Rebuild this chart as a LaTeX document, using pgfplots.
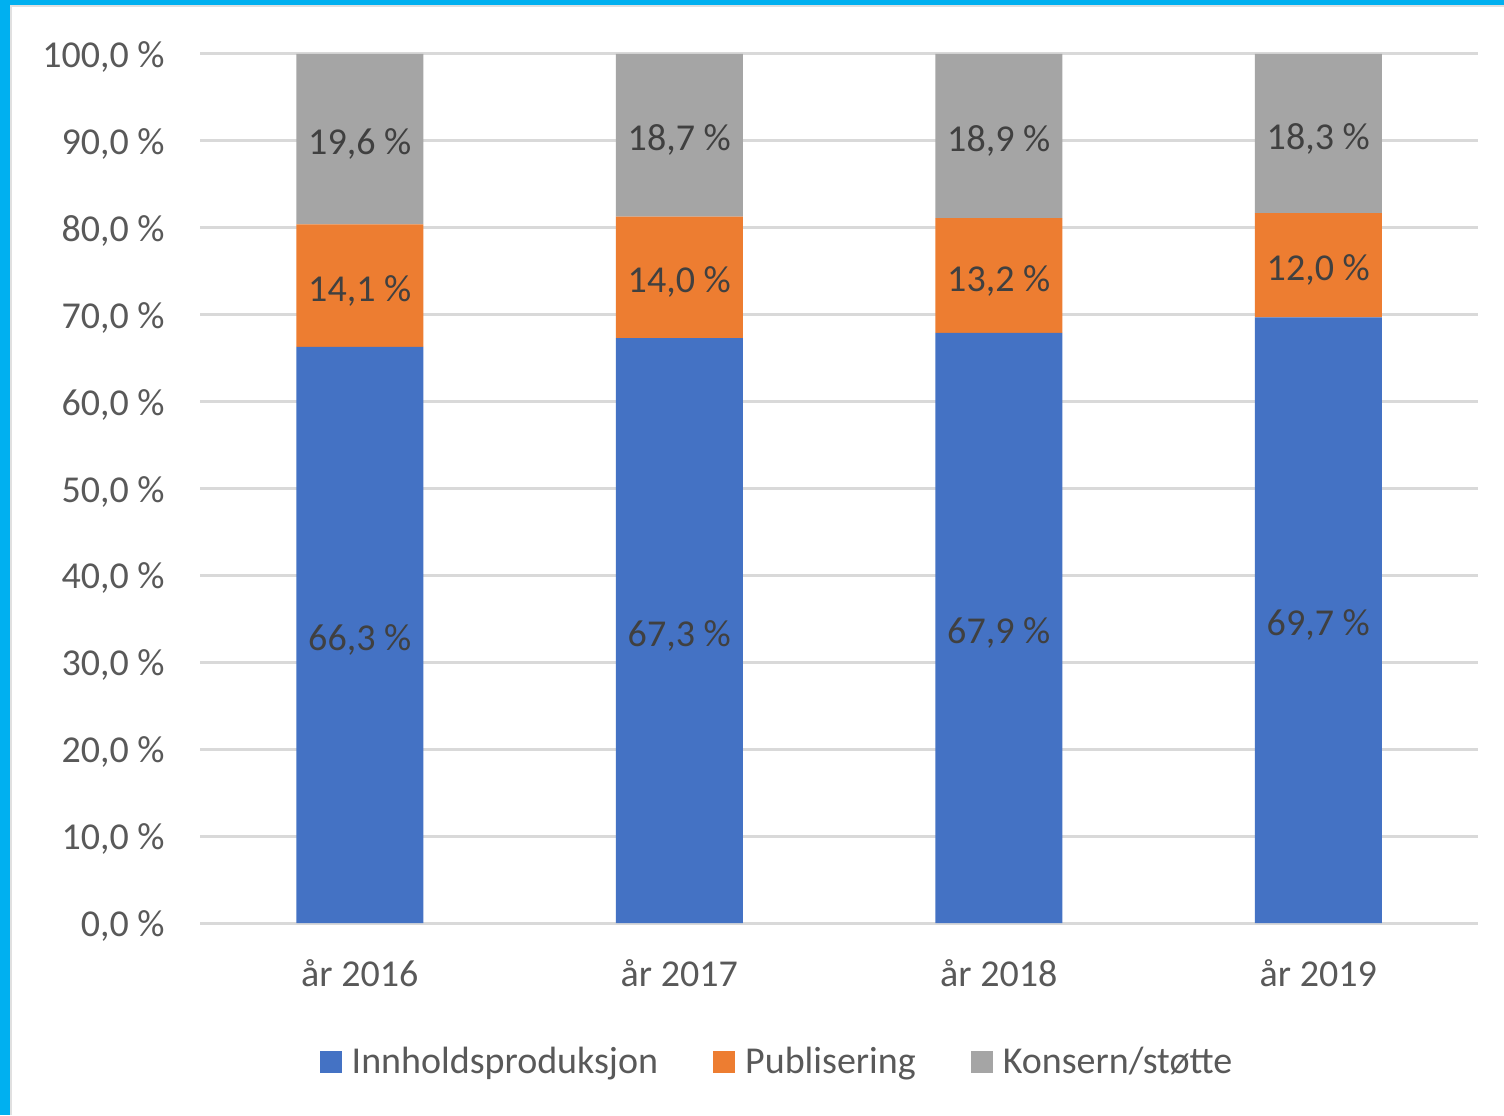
\documentclass[border=0pt]{standalone}
\usepackage{fontspec}
\setmainfont{Carlito}
\usepackage{pgfplots}
\pgfplotsset{compat=1.18}
\definecolor{cblue}{HTML}{4472C4}
\definecolor{corange}{HTML}{ED7D31}
\definecolor{cgray}{HTML}{A5A5A5}
\definecolor{cgrid}{HTML}{D9D9D9}
\definecolor{ctick}{HTML}{595959}
\definecolor{clab}{HTML}{404040}
\definecolor{cframe}{HTML}{00B0F0}
\begin{document}
\begin{tikzpicture}
\useasboundingbox (0,0) rectangle (752pt,557.5pt);
\fill[white] (0,0) rectangle (752pt,557.5pt);
\fill[cframe] (0,0) rectangle (5pt,557.5pt);
\fill[cframe] (0,555pt) rectangle (752pt,557.5pt);
\draw[black!12, line width=1pt] (5.5pt,0) -- (5.5pt,554.5pt) -- (752pt,554.5pt);
\begin{axis}[
  at={(100pt,96pt)}, anchor=south west,
  scale only axis, width=639pt, height=434.5pt,
  ybar stacked, bar width=63.5pt,
  xmin=-0.5, xmax=3.5, ymin=0, ymax=100,
  xtick={0,1,2,3},
  xticklabels={år 2016, år 2017, år 2018, år 2019},
  ytick={0,10,...,100},
  yticklabels={{0,0 \%},{10,0 \%},{20,0 \%},{30,0 \%},{40,0 \%},{50,0 \%},{60,0 \%},{70,0 \%},{80,0 \%},{90,0 \%},{100,0 \%}},
  /pgf/number format/assume math mode=true,
  major tick length=0pt,
  axis y line*=left,
  y axis line style={draw=none},
  axis x line*=bottom,
  x axis line style={draw=cgrid, line width=1.5pt},
  ymajorgrids,
  major grid style={draw=cgrid, line width=1.5pt},
  ytick style={draw=none}, xtick style={draw=none},
  yticklabel style={font=\fontsize{19}{22}\selectfont, text=ctick, inner sep=0pt, anchor=east, xshift=-17.5pt, yshift=-1.5pt},
  xticklabel style={font=\fontsize{19}{22}\selectfont, text=ctick, inner sep=0pt, anchor=north, yshift=-18pt},
  nodes near coords={\pgfmathprintnumber[fixed,fixed zerofill,precision=1,use comma]{\pgfplotspointmeta}~\%},
  every node near coord/.append style={font=\fontsize{19}{22}\selectfont, text=clab, anchor=center, yshift=-2.5pt},
  legend style={at={(0.4507,-0.1600)}, anchor=center, draw=none, fill=none,
    legend columns=3, font=\fontsize{19}{22}\selectfont, text=ctick,
    nodes={inner sep=0pt},
    /tikz/every odd column/.append style={column sep=5pt},
    /tikz/every even column/.append style={column sep=27.5pt}},
  legend image code/.code={\fill[#1] (0pt,-5.5pt) rectangle (11pt,5.5pt);},
]
\addplot[fill=cblue, draw=none] coordinates {(0,66.3) (1,67.3) (2,67.9) (3,69.7)};
\addplot[fill=corange, draw=none] coordinates {(0,14.1) (1,14.0) (2,13.2) (3,12.0)};
\addplot[fill=cgray, draw=none] coordinates {(0,19.6) (1,18.7) (2,18.9) (3,18.3)};
\legend{Innholdsproduksjon, Publisering, Konsern/støtte}
\end{axis}
\end{tikzpicture}
\end{document}
